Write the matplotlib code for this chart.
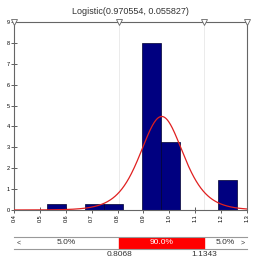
import matplotlib.pyplot as plt
import numpy as np

plt.rcParams['font.family'] = ['Liberation Sans', 'DejaVu Sans']

# Data
bin_edges = [0.527, 0.601, 0.674, 0.747, 0.821, 0.894, 0.967, 1.040, 1.113, 1.187, 1.260]
bin_heights = [0.3, 0.0, 0.3, 0.3, 0.0, 8.0, 3.25, 0.0, 0.0, 1.45]
mu, s = 0.970554, 0.055827
lo_q, hi_q = 0.8068, 1.1343
tail_lo, mid, tail_hi = '5.0%', '90.0%', '5.0%'
x_ticks = [0.4, 0.5, 0.6, 0.7, 0.8, 0.9, 1.0, 1.1, 1.2, 1.3]
y_ticks = list(range(10))

fig = plt.figure(figsize=(2.54, 2.61), dpi=100)
ax = fig.add_axes([0.0551, 0.1954, 0.9173, 0.7203])

widths = np.diff(bin_edges)
ax.bar(bin_edges[:-1], bin_heights, widths, align='edge', color='#000080',
       edgecolor='#000030', linewidth=0.5, zorder=2)

# fitted logistic density
xs = np.linspace(0.4, 1.3, 400)
z = np.exp(-(xs - mu) / s)
ax.plot(xs, z / (s * (1 + z) ** 2), color='#e02020', lw=0.9, zorder=3)

for q in (lo_q, hi_q):
    ax.axvline(q, color='#e8e8e8', lw=0.6, zorder=1)
ax.plot([0.4, lo_q, hi_q, 1.3], [9, 9, 9, 9], linestyle='none', marker='v',
        markersize=4, markerfacecolor='white', markeredgecolor='#666666',
        markeredgewidth=0.6, clip_on=False, zorder=4)

ax.set_xlim(0.4, 1.3)
ax.set_ylim(0, 9)
ax.set_xticks(x_ticks)
ax.set_xticklabels([f'{t:.1f}' for t in x_ticks], rotation=90, fontsize=4)
ax.set_yticks(y_ticks)
ax.set_yticklabels([str(t) for t in y_ticks], fontsize=4)
ax.tick_params(direction='inout', length=4, width=0.6, color='#444444', pad=1)
for sp in ax.spines.values():
    sp.set_color('#666666')
    sp.set_linewidth(0.8)
ax.set_title(f'Logistic({mu}, {s})', fontsize=6.5, color='#333333', pad=6)

# bottom percentile band
bx = fig.add_axes([0.0551, 0.046, 0.9173, 0.046])
bx.set_xlim(0.4, 1.3)
bx.set_ylim(0, 1)
bx.axvspan(lo_q, hi_q, color='#ff0000')
for sp in ('left', 'right'):
    bx.spines[sp].set_visible(False)
for sp in ('top', 'bottom'):
    bx.spines[sp].set_color('#999999')
    bx.spines[sp].set_linewidth(0.8)
bx.set_xticks([])
bx.set_yticks([])
bx.text((0.4 + lo_q) / 2, 0.5, tail_lo, ha='center', va='center', fontsize=6, color='#333333')
bx.text((lo_q + hi_q) / 2, 0.5, mid, ha='center', va='center', fontsize=6, color='white')
bx.text((hi_q + 1.3) / 2, 0.5, tail_hi, ha='center', va='center', fontsize=6, color='#333333')
bx.text(0.41, 0.5, '<', ha='left', va='center', fontsize=5, color='#333333')
bx.text(1.29, 0.5, '>', ha='right', va='center', fontsize=5, color='#333333')
bx.text(lo_q, -0.15, f'{lo_q:.4f}', ha='center', va='top', fontsize=6, color='#333333')
bx.text(hi_q, -0.15, f'{hi_q:.4f}', ha='center', va='top', fontsize=6, color='#333333')

fig.savefig('out.png', dpi=100)
